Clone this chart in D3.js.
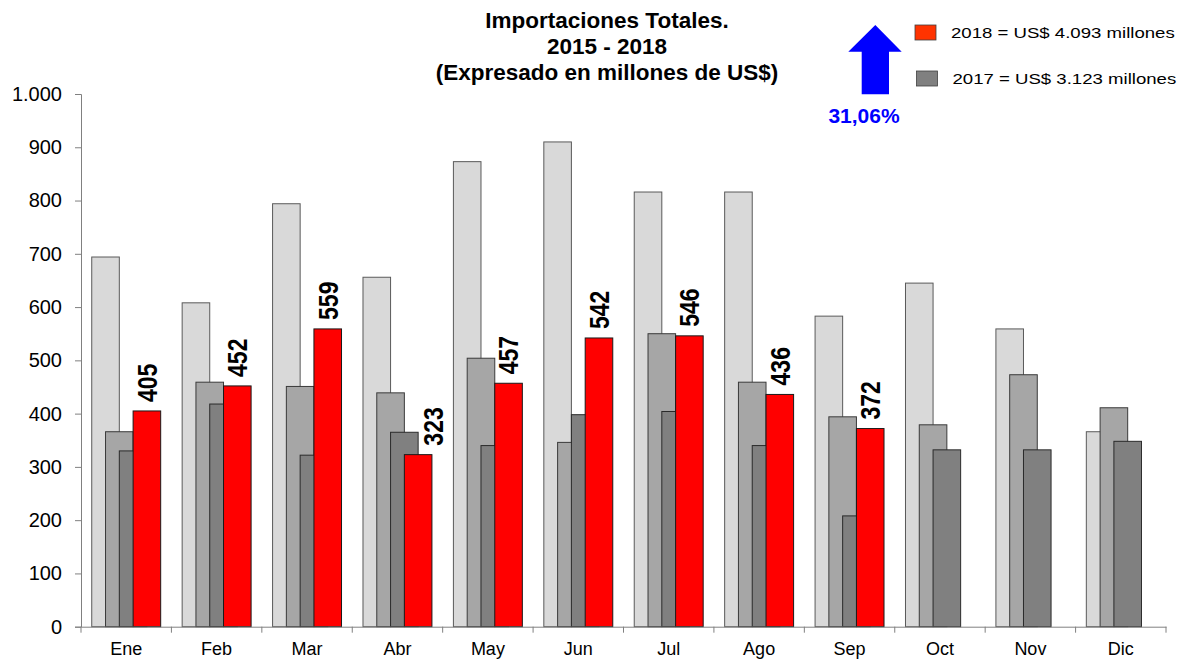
<!DOCTYPE html>
<html>
<head>
<meta charset="utf-8">
<script src="https://cdn.jsdelivr.net/npm/d3@7"></script>
<style>
  body { margin: 0; background: #fff; }
  svg { display: block; font-family: "Liberation Sans", Arial, sans-serif; }
</style>
</head>
<body>
<svg id="chart" width="1186" height="660"></svg>
<script>
// data
const meses = ["Ene", "Feb", "Mar", "Abr", "May", "Jun", "Jul", "Ago", "Sep", "Oct", "Nov", "Dic"];
const v2015 = [694, 608, 794, 656, 873, 910, 816, 816, 583, 645, 559, 366];
const v2016 = [366, 459, 451, 439, 504, 346, 550, 459, 394, 379, 473, 411];
const v2017 = [330, 418, 322, 365, 340, 398, 404, 340, 208, 332, 332, 348];
const v2018 = [405, 452, 559, 323, 457, 542, 546, 436, 372];
const yTicks = [0, 100, 200, 300, 400, 500, 600, 700, 800, 900, 1000];
const titulo = ["Importaciones Totales.", "2015 - 2018", "(Expresado en millones de US$)"];
const leyenda = [
  { text: "2018 = US$ 4.093 millones", color: "#ff3300" },
  { text: "2017 = US$ 3.123 millones", color: "#808080" }
];
const variacion = "31,06%";

const series = [
  { values: v2015, fill: "#d9d9d9", stroke: "#5a5a5a" },
  { values: v2016, fill: "#a6a6a6", stroke: "#3a3a3a" },
  { values: v2017, fill: "#808080", stroke: "#2a2a2a" },
  { values: v2018, fill: "#ff0000", stroke: "#1a1a1a" }
];

// the Abr label was pushed right in the original so it clears the 2017 bar
const labelNudge = { Abr: 15 };

const svg = d3.select("#chart");
const plotL = 81, plotR = 1166, plotT = 94, plotB = 626.7;

const x = d3.scaleBand().domain(meses).range([plotL, plotR]).padding(0);
const y = d3.scaleLinear().domain([0, 1000]).range([plotB, plotT]);

// overlapping bars: each one shifted by half a bar width
const barW = x.bandwidth() * 0.305;
const step = barW / 2;
const start = (x.bandwidth() - (barW + step * (series.length - 1))) / 2;
const barX = (m, i) => x(m) + start + i * step;

const es = d3.formatLocale({ decimal: ",", thousands: ".", grouping: [3], currency: ["US$", ""] });
const fmt = es.format(",d");

// y axis
const yAxis = svg.append("g")
  .attr("transform", `translate(${plotL},0)`)
  .call(d3.axisLeft(y).tickValues(yTicks).tickFormat(fmt).tickSize(6).tickPadding(13));
yAxis.select(".domain").attr("stroke", "#808080");
yAxis.selectAll(".tick line").attr("stroke", "#808080");
yAxis.selectAll(".tick text").attr("font-size", 20).attr("fill", "#000")
  .attr("font-family", "'Liberation Sans', Arial, sans-serif");

// bars, drawn back to front
series.forEach((s, i) => {
  svg.append("g").selectAll("rect")
    .data(s.values.map((v, k) => ({ m: meses[k], v })))
    .join("rect")
    .attr("x", d => barX(d.m, i))
    .attr("y", d => y(d.v))
    .attr("width", barW)
    .attr("height", d => y(0) - y(d.v))
    .attr("fill", s.fill)
    .attr("stroke", s.stroke)
    .attr("stroke-width", 1);
});

// x axis
const xAxis = svg.append("g")
  .attr("transform", `translate(0,${plotB})`)
  .call(d3.axisBottom(x).tickSize(0).tickPadding(16));
xAxis.select(".domain").attr("stroke", "#808080");
xAxis.selectAll(".tick text").attr("font-size", 18).attr("fill", "#000")
  .attr("font-family", "'Liberation Sans', Arial, sans-serif");
svg.append("g").selectAll("line")
  .data(meses.map(m => x(m)).concat([plotR]))
  .join("line")
  .attr("x1", d => d).attr("x2", d => d)
  .attr("y1", plotB).attr("y2", plotB + 6)
  .attr("stroke", "#808080");

// value labels over the 2018 bars
const fs = 23, stretch = 1.2;
svg.append("g").selectAll("text")
  .data(v2018.map((v, k) => ({ m: meses[k], v })))
  .join("text")
  .attr("transform", d => {
    const cx = barX(d.m, 3) + barW / 2 + 0.716 * fs * stretch / 2 + (labelNudge[d.m] || 0);
    return `translate(${cx},${y(d.v) - 9}) rotate(-90) scale(1,${stretch})`;
  })
  .attr("font-size", fs)
  .attr("font-weight", "bold")
  .attr("fill", "#000")
  .text(d => d.v);

// title
svg.append("g").selectAll("text")
  .data(titulo)
  .join("text")
  .attr("x", 607)
  .attr("y", (d, i) => 28 + i * 26)
  .attr("text-anchor", "middle")
  .attr("font-size", 22.5)
  .attr("font-weight", "bold")
  .text(d => d);

// legend
const lg = svg.append("g").selectAll("g")
  .data(leyenda)
  .join("g")
  .attr("transform", (d, i) => `translate(915,${25 + i * 46})`);
lg.append("rect")
  .attr("x", (d, i) => i * 1.5)
  .attr("width", 21).attr("height", 15)
  .attr("fill", d => d.color)
  .attr("stroke", "#404040").attr("stroke-width", 0.8);
lg.append("text")
  .attr("transform", (d, i) => `translate(${36 + i * 1.5},13) scale(1.2,1)`)
  .attr("font-size", 15.5)
  .attr("fill", "#000")
  .text(d => d.text);

// arrow and percentage
svg.append("path")
  .attr("d", "M875.3,25 L901.7,51.7 L889,51.7 L889,94.3 L861.7,94.3 L861.7,51.7 L848.3,51.7 Z")
  .attr("fill", "#0000ff");
svg.append("text")
  .attr("x", 864)
  .attr("y", 123)
  .attr("text-anchor", "middle")
  .attr("font-size", 21)
  .attr("font-weight", "bold")
  .attr("fill", "#0000ff")
  .text(variacion);
</script>
</body>
</html>
